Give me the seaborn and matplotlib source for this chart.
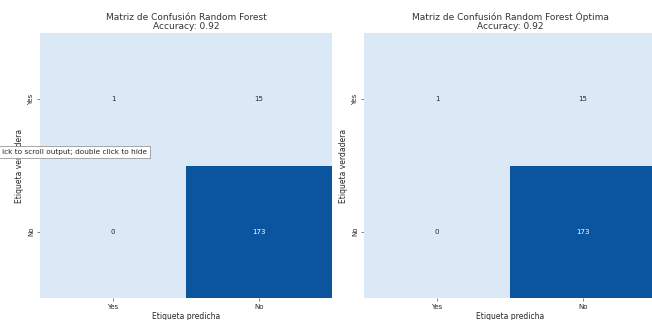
import numpy as np
import pandas as pd
import seaborn as sns
import matplotlib
matplotlib.use("Agg")
import matplotlib.pyplot as plt

labels = ["Yes", "No"]
cm_rf = [[1, 15], [0, 173]]
cm_rf_opt = [[1, 15], [0, 173]]
titles = ["Matriz de Confusión Random Forest", "Matriz de Confusión Random Forest Óptima"]
accuracies = [0.92, 0.92]

sns.set_theme(style="white")
plt.rcParams["font.family"] = ["DejaVu Sans"]

W, H = 652, 320
fig = plt.figure(figsize=(W / 100, H / 100), dpi=100)

def px_axes(x0, y0, x1, y1):
    return fig.add_axes([x0 / W, 1 - y1 / H, (x1 - x0) / W, (y1 - y0) / H])

axes = [px_axes(40, 33, 332, 298), px_axes(364, 33, 656, 298)]

for ax, cm, title, acc in zip(axes, [cm_rf, cm_rf_opt], titles, accuracies):
    df = pd.DataFrame(cm, index=labels, columns=labels)
    sns.heatmap(df, annot=True, fmt="d", cmap=sns.color_palette("Blues"),
                cbar=False, ax=ax, annot_kws={"fontsize": 5})
    ax.set_title(f"{title}\nAccuracy: {acc:.2f}", fontsize=6.5, pad=3,
                 linespacing=1.0, color="#333333")
    ax.set_xlabel("Etiqueta predicha", fontsize=5.5, labelpad=2)
    ax.set_ylabel("Etiqueta verdadera", fontsize=5.5, labelpad=3)
    ax.tick_params(axis="both", labelsize=5, length=2, width=0.5, pad=2,
                   bottom=True, left=True, color="#555555")
    ax.set_yticklabels(labels, rotation=90, va="center")

fig.text(2 / W, 1 - 152 / H, "ick to scroll output; double click to hide",
         fontsize=5.3, va="center", ha="left",
         bbox=dict(boxstyle="square,pad=0.35", fc="white", ec="#999999", lw=0.6))

fig.savefig("out.png", dpi=100)
